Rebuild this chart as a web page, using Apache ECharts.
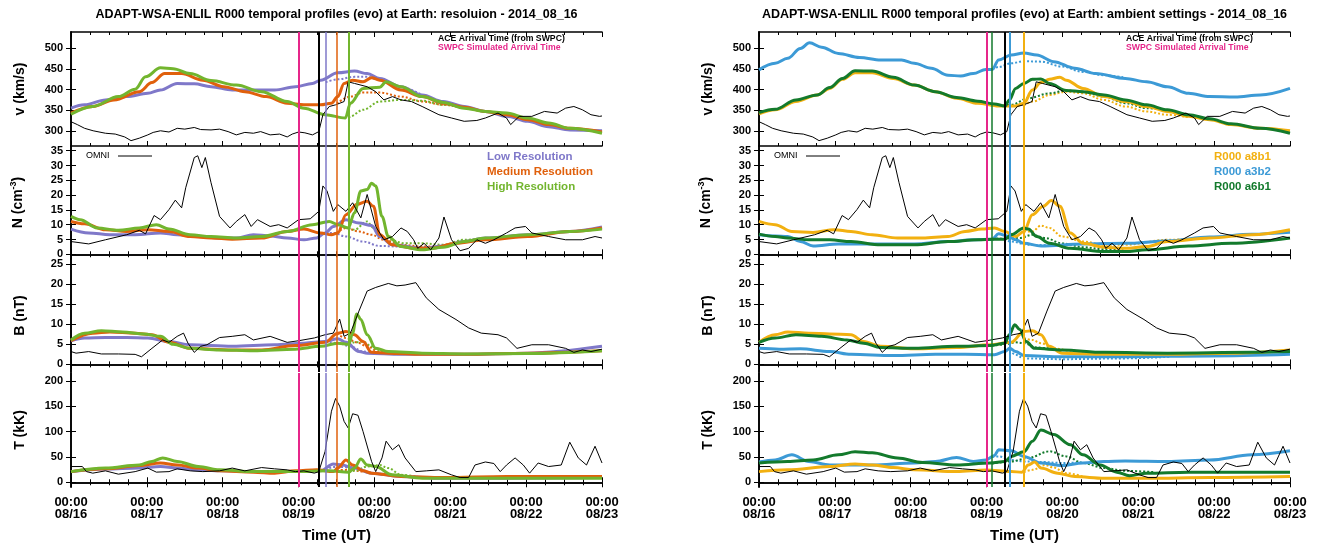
<!DOCTYPE html>
<html><head><meta charset="utf-8">
<script src="https://cdn.jsdelivr.net/npm/echarts@6/dist/echarts.min.js"></script>
<style>html,body{margin:0;padding:0;background:#fff}#c{width:1322px;height:548px}</style>
</head><body><div id="c"></div>
<script>
// ---- time axis (hours since 2014-08-16 00:00) ----
const dayLabels = ['08/16','08/17','08/18','08/19','08/20','08/21','08/22','08/23'];
const vTicks = [300,350,400,450,500];
const nTicks = [0,5,10,15,20,25,30,35];
const bTicks = [0,5,10,15,20,25];
const tTicks = [0,50,100,150,200];

// ---- OMNI observations ----
const omniV = [[0,322],[2,315],[4.3,306],[7,300],[10.9,294],[14,292],[17,285],[19,276],[21.6,282],[24.3,290],[26,296],[28.3,300],[31,297],[33.6,306],[36,304],[39,308],[41,303],[44.3,302],[47,304],[49.7,298],[52.3,290],[55,296],[57.7,294],[60,298],[63,290],[66,292],[68.4,285],[70,292],[72,297],[74,295],[76.4,290],[78.4,298],[79.7,339],[81.7,359],[83.7,363],[86.4,371],[87.7,419],[89.7,415],[93.7,407],[96.4,395],[99,375],[101.7,383],[104.4,375],[107.7,371],[111.1,359],[116.4,339],[120.4,331],[124.4,323],[128.4,325],[131.1,331],[135.1,343],[137.8,331],[139.1,315],[141.8,335],[145.8,335],[149.8,347],[153.8,343],[156.5,355],[159.1,359],[161.8,351],[164.5,339],[167.2,335],[168,336]];
const omniN = [[0,4.3],[5.6,3.5],[10.9,4.9],[17.6,6.6],[21.6,8.1],[23.6,6.9],[26.3,13.1],[28.3,11.7],[31,15.1],[33,18.3],[35,15.7],[36.3,22.5],[39,32.7],[40.1,33.3],[41.4,29.3],[42.5,32.7],[44.3,24.2],[47,12.8],[50.3,8.9],[52.3,11.1],[55,13.4],[57,9.4],[59,11.7],[63,9.4],[65.7,10],[68.4,8.9],[72,11.7],[75.7,12],[78.4,14.5],[79.7,23.1],[81,21.4],[83,14.5],[84.4,16.8],[87,14.5],[89.1,17.4],[91.7,12.3],[93.7,20.2],[96.4,9.4],[99,4.9],[101.7,6],[104.4,8.9],[106.4,7.7],[108.4,4.9],[109.7,2],[111.7,3.7],[113.8,1.5],[116.4,5.5],[118,12.6],[120.4,4.9],[123.1,1.2],[125.8,2],[128.4,4.9],[131.1,3.7],[133.8,4.9],[137.8,7.2],[140.5,8.9],[143.8,9.4],[145.8,7.2],[151.1,6],[156.5,4.9],[161.8,4.9],[165.8,6],[168,5.5]];
const omniB = [[0,3.2],[1.6,2.8],[5.6,3.2],[9.6,2.6],[15,2.6],[20.3,2.5],[22.3,1.9],[25.6,4],[29,6.1],[31,5.5],[33.6,7],[35.6,7.8],[37,5.3],[39,3],[41,4.5],[43,4.9],[47,6.7],[51,7],[55,7.4],[57.7,6.1],[63,7],[68.4,5.5],[72,5.9],[77,6.6],[80.4,7.4],[83,7.8],[85,11.3],[86.4,7],[88.4,7.8],[91.1,13.3],[93.7,18.3],[96.4,19.2],[100.4,20.2],[103.1,19.6],[105.7,19.8],[109.1,20.4],[112.4,16.6],[116.4,13.7],[121.8,11.2],[125.8,9.1],[129.8,7.8],[135.1,7.4],[137.8,6.6],[141.1,4],[145.8,4.9],[151.1,4.9],[156.5,4],[159.1,3],[161.8,3.6],[164.5,3.2],[168,3.8]];
const omniT = [[0,31],[3.6,31],[4.9,21],[6.9,18],[10.9,22.5],[15,16],[20.3,21],[24.3,28],[27,20],[31,21],[33.6,26.5],[37.7,22.5],[41.7,21],[47,22.5],[51,28],[55,22.5],[60.3,29],[64.4,26.5],[68.4,24.5],[71,21],[73.7,22.5],[77,18],[78.4,21],[80.4,61],[82.4,140],[83.7,165],[85,150],[86.4,120],[87.7,107],[89.1,135],[90.8,132],[92.4,100],[95.1,41],[96.4,21],[98.4,48],[99.7,81],[101.7,64],[103.7,74],[105.7,48],[109.1,21],[112.4,22.5],[116.4,24.5],[120.4,14.6],[123.1,9.3],[125.8,9.3],[127.8,34],[131.1,40],[133.8,37],[135.8,21],[137.8,34],[140.5,48],[143.1,34],[145.1,18],[147.8,38],[151.1,31],[155.1,34],[157.8,79],[160.5,48],[163.1,34],[165.8,71],[168,38]];

// ---- left: resolution runs (solid = with CME, dotted = ambient) ----
const lowV = [[0,355],[4.3,363],[10.9,375],[17.6,383],[24.3,391],[28.3,399],[33.6,415],[39,414],[44.3,407],[51,399],[57.7,399],[64.4,399],[71,407],[76.4,415],[79,423],[84.4,441],[89.7,445],[93.7,439],[97.7,427],[104.4,407],[111.1,387],[117.8,371],[124.4,359],[131.1,347],[137.8,335],[144.5,323],[151.1,310],[157.8,302],[168,300]];
const lowVd = [[80.6,418],[84.4,425],[89.7,431],[93.7,431],[97.7,423],[104.4,406],[111.1,387]];
const medV = [[0,343],[6.9,359],[13.6,375],[21.6,395],[25.6,417],[29.6,439],[35,439],[41.7,423],[48.3,407],[55,395],[61.7,383],[68.4,367],[73.7,363],[79,363],[82.4,367],[84.4,383],[86.4,415],[89.1,423],[92.4,419],[95.1,429],[97.7,423],[104.4,399],[111.1,383],[117.8,367],[124.4,357],[131.1,347],[137.8,339],[144.5,327],[151.1,315],[157.8,306],[168,297]];
const medVd = [[84.1,366],[88.4,383],[92.4,393],[97.7,393],[104.4,383],[111.1,371],[117.8,363],[124.4,357]];
const highV = [[0,340],[6.9,359],[15,383],[20.3,401],[23.6,431],[28.3,453],[32.3,451],[37.7,439],[44.3,422],[52.3,411],[60.3,395],[68.4,371],[73.7,355],[80.4,339],[86.8,331],[88.4,367],[92.4,403],[97.7,406],[99.7,419],[104.4,407],[111.1,383],[117.8,369],[124.4,355],[131.1,347],[137.8,343],[144.5,331],[151.1,319],[157.8,306],[168,294]];
const highVd = [[87.9,331],[88.4,335],[92.4,351],[97.7,371],[104.4,375],[111.1,373],[117.8,363],[124.4,355]];

const lowN = [[0,8.5],[5.6,7.2],[12.3,6.6],[20.3,6.6],[28.3,7.2],[33.6,6.6],[40.3,6],[47,5.5],[52.3,5.5],[57.7,6.6],[63,6.2],[68.4,5.5],[73.7,4.9],[77.7,5.5],[80.4,7.2],[83,9.4],[87,11.7],[91.1,10.6],[95.1,9.7],[97.7,6],[101.7,3.2],[111.1,2],[117.8,2.8],[124.4,4.3],[131.1,5.5],[144.5,6.6],[157.8,7.7],[168,9.2]];
const lowNd = [[80.6,7.3],[83,7.2],[87,6],[92.4,4.3],[97.7,2.8],[104.4,2.6],[111.1,2.4],[117.8,2.8]];
const medN = [[0,11.1],[4.3,10.3],[10.9,8.3],[17.6,7.7],[24.3,8.3],[31,7.7],[37.7,6],[44.3,5.5],[51,5.1],[60.3,5.5],[68.4,7.7],[73.7,8.5],[79,7.2],[82.4,6.6],[84.4,7.2],[87,13.4],[90.4,16.8],[93.7,17.9],[95.7,16.2],[97.7,6.6],[101.7,3.2],[108.4,2],[113.8,2],[121.8,3.7],[131.1,4.9],[144.5,6],[157.8,7.7],[168,8.9]];
const medNd = [[84.1,7.2],[87,8.9],[91.1,7.7],[95.1,6.6],[99,4.9],[104.4,3.2],[111.1,2.6],[117.8,2.8]];
const highN = [[0,12.8],[2.9,11.7],[8.3,8.9],[15,8.1],[21.6,8.9],[27,10],[31,8.5],[37.7,6.6],[44.3,6],[52.3,5.5],[60.3,6],[68.4,7.7],[76.4,10],[81.7,11.1],[84.4,10],[87.7,8.9],[89.7,14],[91.7,21.4],[93.7,21.9],[95.1,24],[96.4,23.1],[98.4,12.8],[100.4,6],[104.4,2.6],[111.1,1.5],[117.8,2.4],[124.4,4.3],[131.1,5.5],[144.5,6.6],[157.8,7.7],[168,8.5]];
const highNd = [[87.9,8.9],[89.7,8.3],[93.7,11.1],[95.7,8.9],[99,5.5],[105.7,3.7],[111.1,3.7],[117.8,3.2],[124.4,4.9],[137.8,6]];

const lowB = [[0,5.9],[4.3,6.6],[10.9,6.7],[17.6,6.7],[24.3,6.6],[31,5.7],[37.7,4.9],[51,4.5],[64.4,4.9],[73.7,5.3],[80.4,5.7],[84.4,6.4],[87,5.5],[91.1,3.2],[93.7,2.8],[104.4,2.5],[124.4,2.5],[144.5,2.8],[168,4.5]];
const lowBd = [[80.6,5.7],[84.4,5.3],[88.4,4.5],[92.4,3.2],[95.1,2.8]];
const medB = [[0,5.9],[6.9,7.8],[12.3,8.1],[20.3,7.8],[25.6,7.4],[31,5.5],[37.7,4],[51,3.6],[60.3,3.6],[71,4.7],[80.4,5.5],[84.4,7.8],[87,8.2],[89.7,7.4],[92.4,5.7],[95.1,3],[100.4,2.8],[111.1,2.5],[124.4,2.5],[144.5,2.8],[168,3.4]];
const medBd = [[84.1,7.6],[87,6.6],[90.4,5.5],[93.7,4.5],[97.7,3],[104.4,2.6]];
const highB = [[0,6.1],[4.3,7.8],[9.6,8.4],[16.3,8.1],[23,7.6],[28.3,7],[32.3,5],[37.7,4],[47,3.6],[57.7,3.4],[71,3.8],[79,4.5],[84.4,5.3],[87.9,5],[89.1,7.8],[90.4,12.6],[91.7,11.2],[93.7,7.4],[96.4,4],[100.4,3.2],[111.1,2.8],[124.4,2.6],[144.5,2.7],[168,3.4]];
const highBd = [[87.9,5],[89.7,5.5],[92.4,5.7],[95.1,4.5],[97.7,3.2],[104.4,2.5]];

const lowT = [[0,21],[10.9,26],[21.6,28],[28.3,31],[33.6,28],[40.3,24.5],[47,22.5],[57.7,21],[71,21],[79,22.5],[83,36],[85.7,34],[89.7,28],[95.1,18],[104.4,11.3],[117.8,8],[137.8,8],[168,9.3]];
const lowTd = [[80.6,24],[83,30],[86.4,30],[90.4,25],[95.1,18],[101.7,12]];
const medT = [[0,21],[10.9,26.5],[21.6,33],[28.3,38],[33.6,34],[40.3,28],[47,22.5],[57.7,20],[64.4,18],[71,22.5],[77.7,24.5],[83,21],[84.4,28],[87,44],[89.1,34],[92.4,22.5],[95.1,18],[104.4,11.3],[117.8,9.3],[137.8,11.3],[168,11.3]];
const medTd = [[84.1,24],[88.4,24.5],[92.4,21],[97.7,16],[104.4,12]];
const highT = [[0,21],[10.9,28],[21.6,34],[25.6,41],[29,48],[33.6,41],[40.3,31],[47,24.5],[57.7,21],[71,21],[81.7,22.5],[87.9,20],[89.7,28],[91.7,46],[93.7,34],[96.4,31],[101.7,14.6],[111.1,8],[124.4,8],[137.8,8],[168,8]];
const highTd = [[87.9,20],[89.7,22.5],[93.7,31],[97.7,34],[100.4,28],[104.4,14.6],[111.1,9]];

// ---- right: ambient settings runs ----
const a3b2V = [[0,448],[5.1,464],[9.1,476],[13.1,500],[16,514],[19.8,503],[25.1,488],[31.8,478],[38.5,472],[45.1,472],[49.1,464],[54.5,452],[59.8,435],[63.8,433],[67.8,439],[71.8,449],[73.8,449],[75.8,472],[79.8,484],[83.8,489],[87.9,484],[93.2,468],[99.9,452],[106.5,439],[115.9,427],[122.6,419],[129.2,407],[135.9,391],[142.6,383],[150.6,382],[158.6,387],[168,403]];
const a3b2Vd = [[73.8,449],[75.8,455],[79.8,464],[83.8,469],[89.2,468],[95.9,456],[102.5,443],[109.2,435],[115.9,429]];
const a8b1V = [[0,341],[5.1,351],[11.7,371],[18.4,387],[22.4,403],[26.4,425],[30.4,441],[35.8,441],[42.5,427],[49.1,411],[55.8,395],[62.5,379],[69.2,367],[75.8,360],[81.2,360],[83.8,367],[86.5,399],[89.2,417],[91.9,425],[95.2,430],[97.2,423],[102.5,403],[109.2,383],[115.9,371],[122.6,359],[129.2,347],[135.9,335],[142.6,327],[149.3,315],[158.6,306],[168,300]];
const a8b1Vd = [[83.8,362],[86.5,371],[91.9,387],[97.2,395],[102.5,391],[109.2,375],[115.9,359],[122.6,347],[129.2,339],[135.9,333]];
const a6b1V = [[0,344],[5.1,352],[11.7,375],[18.4,387],[22.4,405],[26.4,427],[30.4,446],[35.8,445],[42.5,430],[49.1,411],[55.8,395],[62.5,381],[69.2,372],[74.5,365],[77.8,360],[79.2,375],[81.2,403],[83.8,415],[86.5,425],[89.2,426],[91.9,415],[97.2,398],[102.5,395],[109.2,387],[115.9,375],[122.6,363],[129.2,351],[135.9,339],[142.6,329],[149.3,317],[158.6,306],[168,294]];
const a6b1Vd = [[73.7,366],[75.8,361],[79.8,363],[85.2,379],[91.9,391],[97.2,398],[102.5,395],[109.2,383],[115.9,367],[122.6,355],[129.2,349]];

const a8b1N = [[0,11.1],[5.1,10],[10.4,7.7],[17.1,7.4],[23.8,8.3],[29.1,7.7],[35.8,6.6],[43.8,5.5],[51.8,5.5],[59.8,6],[65.2,7.7],[70.5,8.5],[74.5,8.9],[77.8,7.7],[81.2,6],[83.8,7.7],[86.5,13.4],[89.9,16.2],[92.5,18.2],[95.2,16.2],[98.5,7.2],[102.5,3.7],[109.2,2.4],[115.9,2],[122.6,2.6],[129.2,4.3],[142.6,5.5],[155.9,6.6],[168,8.3]];
const a8b1Nd = [[83.8,7.7],[86.5,7.7],[89.2,9.7],[91.9,8.9],[95.9,6],[102.5,4.3],[109.2,3.2],[115.9,3.2],[129.2,4.9],[142.6,5.5]];
const a3b2N = [[0,6.6],[5.1,6.2],[9.1,6],[13.1,4.3],[17.1,2.8],[25.1,3.5],[35.8,3.5],[49.1,3.5],[59.8,4.3],[67.8,4.9],[73.8,5.1],[75.8,6.9],[78.5,6.2],[81.2,4.9],[83.8,3.7],[89.2,2.8],[102.5,3.5],[115.9,3.7],[129.2,4.5],[142.6,5.8],[155.9,6.8],[168,7.4]];
const a3b2Nd = [[73.8,5.1],[75.8,5.3],[79.8,4.3],[85.2,3.2],[92.5,3]];
const a6b1N = [[0,6.8],[5.1,6],[9.1,5.5],[15.8,4.9],[22.4,4.9],[29.1,4.3],[38.5,3.2],[49.1,3.2],[59.8,4.3],[69.2,4.9],[74.5,5.1],[77.8,5.1],[79.8,6.6],[83.8,8.9],[85.2,8.5],[87.9,6],[91.9,3.7],[98.5,2],[109.2,0.9],[115.9,0.9],[122.6,1.5],[135.9,2.8],[149.3,3.7],[168,5.5]];
const a6b1Nd = [[73.7,5.1],[78.5,5.3],[82.5,5.5],[86.5,6.6],[90.5,5.5],[95.9,3.7],[102.5,2.4],[109.2,1.7],[115.9,1.2]];

const a8b1B = [[0,5.5],[5.1,7.4],[9.1,8.1],[15.8,7.8],[22.4,7.6],[29.1,7.4],[33.1,5.7],[38.5,4.5],[49.1,3.9],[62.5,4.2],[73.2,4.9],[79.8,5.5],[83.8,8.2],[86.5,8.4],[89.2,7.4],[91.9,4.5],[95.9,2.8],[109.2,2.5],[129.2,2.5],[149.3,2.8],[168,3.6]];
const a8b1Bd = [[83.8,6.5],[86.5,6.1],[89.2,5.3],[93.2,4],[98.5,3.4],[105,2.8]];
const a3b2B = [[0,4],[6.4,3.8],[13.1,3.9],[22.4,3.2],[29.1,2.5],[42.5,2.2],[55.8,2.5],[65.2,2.5],[74.5,2.4],[77.8,3.2],[79.3,4],[81.2,3.2],[83.8,2.2],[95.9,1.9],[115.9,1.9],[142.6,2.1],[168,2.5]];
const a3b2Bd = [[79.3,3.6],[81.2,2.4],[83.8,1.5],[95.9,1.3],[115.9,1.5],[130,1.9]];
const a6b1B = [[0,5.5],[5.1,6.6],[11.7,7.4],[19.8,7],[27.8,6.1],[33.1,5.3],[38.5,4.2],[49.1,4],[62.5,4.5],[73.2,4.7],[77.8,5.3],[79.2,7.4],[80.9,9.9],[82.5,8.7],[84.5,5.7],[87.2,4],[95.9,3.6],[109.2,3],[129.2,2.8],[155.9,3],[168,3.2]];
const a6b1Bd = [[73.7,4.7],[77.1,4.9],[81.2,5.5],[83.8,5.3],[87.9,4.2],[93,3.8]];

const a8b1T = [[0,21],[9.1,24.5],[22.4,31],[30.4,36],[35.8,34],[42.5,29],[49.1,24.5],[62.5,21],[71.8,24],[79.8,21],[83.2,20],[85.2,34],[87.2,40],[89.2,28],[94.5,18],[99.9,11.3],[109.2,8],[122.6,8],[142.6,9.3],[168,11.3]];
const a8b1Td = [[83.8,20],[86.5,24.5],[90.5,34],[93.2,29],[97.2,18],[102.5,11.3]];
const a3b2T = [[0,40],[5.1,44],[10.4,54],[15.8,41],[22.4,34],[35.8,34],[49.1,38],[55.8,41],[62.5,49],[67.8,41],[71.8,44],[74.5,53],[75.8,64],[79.8,62],[83.8,51],[89.2,38],[95.9,33],[102.5,38],[109.2,41],[115.9,42],[129.2,41],[142.6,44],[155.9,54],[168,62]];
const a3b2Td = [[73.8,50],[75.8,51],[79.8,44],[83.8,41],[89.2,40],[95.9,38],[102.5,39]];
const a6b1T = [[0,38],[9.1,41],[17.1,44],[25.1,54],[30.4,60],[35.8,58],[43.8,48],[51.8,39],[62.5,34],[73.2,38],[77.8,41],[79.8,51],[83.8,60],[86.5,81],[89.2,103],[93.2,94],[98.5,74],[102.5,54],[107.9,34],[113.2,20],[117.2,13],[122.6,18],[135.9,20],[168,20]];
const a6b1Td = [[73.7,37],[79.8,41],[85.2,48],[91.9,61],[97.2,51],[102.5,38],[109.2,28],[115.9,22.5],[125,20]];

// arrival times (hours)
const leftArrivals = [72, 78.3, 80.6, 84.1, 87.9];
const rightArrivals = [72, 73.7, 77.9, 79.3, 83.9];

// ---------------- build chart ----------------
const C = {purple:'#7f78c9', orange:'#e0600c', green:'#72b52e', pink:'#e6268a',
           blue:'#3c9ad6', gold:'#f2b010', dkgreen:'#137a2c', black:'#000'};
const FF = '"Liberation Sans", Arial, Helvetica, sans-serif';
const PANELS = [
  {left:71, width:531, title:'ADAPT-WSA-ENLIL R000 temporal profiles (evo) at Earth: resoluion - 2014_08_16',
   runs:[
     {c:C.purple, d:[[lowV,lowVd],[lowN,lowNd],[lowB,lowBd],[lowT,lowTd]]},
     {c:C.orange, d:[[medV,medVd],[medN,medNd],[medB,medBd],[medT,medTd]]},
     {c:C.green,  d:[[highV,highVd],[highN,highNd],[highB,highBd],[highT,highTd]]}],
   vl:[{h:leftArrivals[0],c:C.pink,w:2},{h:leftArrivals[1],c:C.black,w:2},{h:leftArrivals[2],c:C.purple,w:1.5},{h:leftArrivals[3],c:C.orange,w:1.5},{h:leftArrivals[4],c:C.green,w:2}],
   legend:[['Low Resolution',C.purple],['Medium Resolution',C.orange],['High Resolution',C.green]], legX:416},
  {left:759, width:531, title:'ADAPT-WSA-ENLIL R000 temporal profiles (evo) at Earth: ambient settings - 2014_08_16',
   runs:[
     {c:C.blue,    d:[[a3b2V,a3b2Vd],[a3b2N,a3b2Nd],[a3b2B,a3b2Bd],[a3b2T,a3b2Td]]},
     {c:C.gold,    d:[[a8b1V,a8b1Vd],[a8b1N,a8b1Nd],[a8b1B,a8b1Bd],[a8b1T,a8b1Td]]},
     {c:C.dkgreen, d:[[a6b1V,a6b1Vd],[a6b1N,a6b1Nd],[a6b1B,a6b1Bd],[a6b1T,a6b1Td]]}],
   vl:[{h:rightArrivals[0],c:C.pink,w:2},{h:rightArrivals[1],c:C.dkgreen,w:1.5},{h:rightArrivals[2],c:C.black,w:2},{h:rightArrivals[3],c:C.blue,w:2},{h:rightArrivals[4],c:C.gold,w:2}],
   legend:[['R000 a8b1',C.gold],['R000 a3b2',C.blue],['R000 a6b1',C.dkgreen]], legX:455}
];
const ROWS = [
  {top:32,  height:114, min:263,  max:540,   ticks:vTicks, name:'v (km/s)', omni:omniV},
  {top:146, height:113, min:-1.6, max:36.6,  ticks:nTicks, name:'{a|N (cm}{s|-3}{a|)}', omni:omniN},
  {top:259, height:113, min:-1.9, max:26.3,  ticks:bTicks, name:'B (nT)', omni:omniB},
  {top:373, height:114, min:-9.3, max:215.3, ticks:tTicks, name:'T (kK)', omni:omniT}
];

const grid=[], xAxis=[], yAxis=[], series=[], graphic=[];
const axLine = {show:true, lineStyle:{color:'#000', width:1.6}};
PANELS.forEach((P, pi) => {
  ROWS.forEach((R, ri) => {
    const gi = grid.length;
    grid.push({left:P.left, width:P.width, top:R.top, height:R.height, containLabel:false});
    const isBottom = ri === ROWS.length-1;
    const xCommon = {type:'value', gridIndex:gi, min:0, max:168, interval:24, splitLine:{show:false},
      axisLine:axLine, axisTick:{show:true, inside:true, length:5, lineStyle:{color:'#000',width:1}},
      minorTick:{show:true, splitNumber:4, length:3, lineStyle:{color:'#000',width:1}}};
    xAxis.push(Object.assign({}, xCommon, {position:'bottom',
      axisLabel:{show:isBottom, interval:0, margin:9, color:'#000', fontFamily:FF, fontWeight:'bold', fontSize:13, lineHeight:12,
        formatter: v => '00:00\n' + dayLabels[Math.round(v/24)]},
      name: isBottom ? 'Time (UT)' : '', nameLocation:'middle', nameGap:41,
      nameTextStyle:{color:'#000', fontFamily:FF, fontWeight:'bold', fontSize:15}}));
    xAxis.push(Object.assign({}, xCommon, {position:'top', axisLabel:{show:false}}));
    const yCommon = {type:'value', gridIndex:gi, min:R.min, max:R.max, splitLine:{show:false}, axisLine:axLine,
      axisTick:{show:true, inside:true, length:5, customValues:R.ticks, lineStyle:{color:'#000',width:1}}};
    yAxis.push(Object.assign({}, yCommon, {position:'left',
      axisLabel:{show:true, customValues:R.ticks, margin:8, color:'#000', fontFamily:FF, fontWeight:'bold', fontSize:11},
      name:R.name, nameLocation:'middle', nameRotate:90, nameGap:44,
      nameTextStyle:{color:'#000', fontFamily:FF, fontWeight:'bold', fontSize:14,
        rich:{a:{fontFamily:FF, fontWeight:'bold', fontSize:14, color:'#000'},
              s:{fontFamily:FF, fontWeight:'bold', fontSize:9, color:'#000', padding:[0,0,9,0]}}}}));
    yAxis.push(Object.assign({}, yCommon, {position:'right', axisLabel:{show:false}}));
    const xi = 2*gi, yi = 2*gi;
    // model runs: dotted (ambient) then solid
    P.runs.forEach(run => {
      const [solid, dotted] = run.d[ri];
      series.push({type:'line', xAxisIndex:xi, yAxisIndex:yi, data:dotted, showSymbol:false, smooth:0.35,
        smoothMonotone:'x', silent:true, z:2, lineStyle:{color:run.c, width:2, type:[2,2]}});
    });
    P.runs.forEach(run => {
      const [solid] = run.d[ri];
      series.push({type:'line', xAxisIndex:xi, yAxisIndex:yi, data:solid, showSymbol:false, smooth:0.35,
        smoothMonotone:'x', silent:true, z:3, lineStyle:{color:run.c, width:3}});
    });
    series.push({type:'line', xAxisIndex:xi, yAxisIndex:yi, data:R.omni, showSymbol:false, silent:true, z:4,
      lineStyle:{color:'#000', width:1}});
    series.push({type:'line', xAxisIndex:xi, yAxisIndex:yi, data:[], silent:true, z:5,
      markLine:{silent:true, symbol:['none','none'], label:{show:false}, animation:false,
        data:P.vl.map(v => ({xAxis:v.h, lineStyle:{color:v.c, width:v.w, type:'solid'}}))}});
  });
  // title
  graphic.push({type:'text', x:P.left+P.width/2, y:15, z:100,
    style:{text:P.title, x:0, y:0, textAlign:'center', textVerticalAlign:'middle', fill:'#000',
      fontFamily:FF, fontWeight:'bold', fontSize:12.5}});
  // arrival legend
  graphic.push({type:'text', x:P.left+367, y:39, z:100, style:{text:'ACE Arrival Time (from SWPC)', textAlign:'left', textVerticalAlign:'middle', fill:'#000', fontFamily:FF, fontWeight:'bold', fontSize:8.7}});
  graphic.push({type:'text', x:P.left+367, y:48, z:100, style:{text:'SWPC Simulated Arrival Time', textAlign:'left', textVerticalAlign:'middle', fill:C.pink, fontFamily:FF, fontWeight:'bold', fontSize:8.7}});
  // OMNI legend
  graphic.push({type:'text', x:P.left+15, y:156, z:100, style:{text:'OMNI', textAlign:'left', textVerticalAlign:'middle', fill:'#000', fontFamily:FF, fontSize:9}});
  graphic.push({type:'line', z:100, shape:{x1:P.left+47, y1:156, x2:P.left+81, y2:156}, style:{stroke:'#000', lineWidth:1}});
  // run legend
  P.legend.forEach((L, i) => {
    graphic.push({type:'text', x:P.left+P.legX, y:157+i*15, z:100, style:{text:L[0], textAlign:'left', textVerticalAlign:'middle', fill:L[1], fontFamily:FF, fontWeight:'bold', fontSize:11.5}});
  });
});

const chart = echarts.init(document.getElementById('c'), null, {renderer:'canvas', width:1322, height:548});
chart.setOption({animation:false, backgroundColor:'#fff', grid, xAxis, yAxis, series, graphic});
</script></body></html>
